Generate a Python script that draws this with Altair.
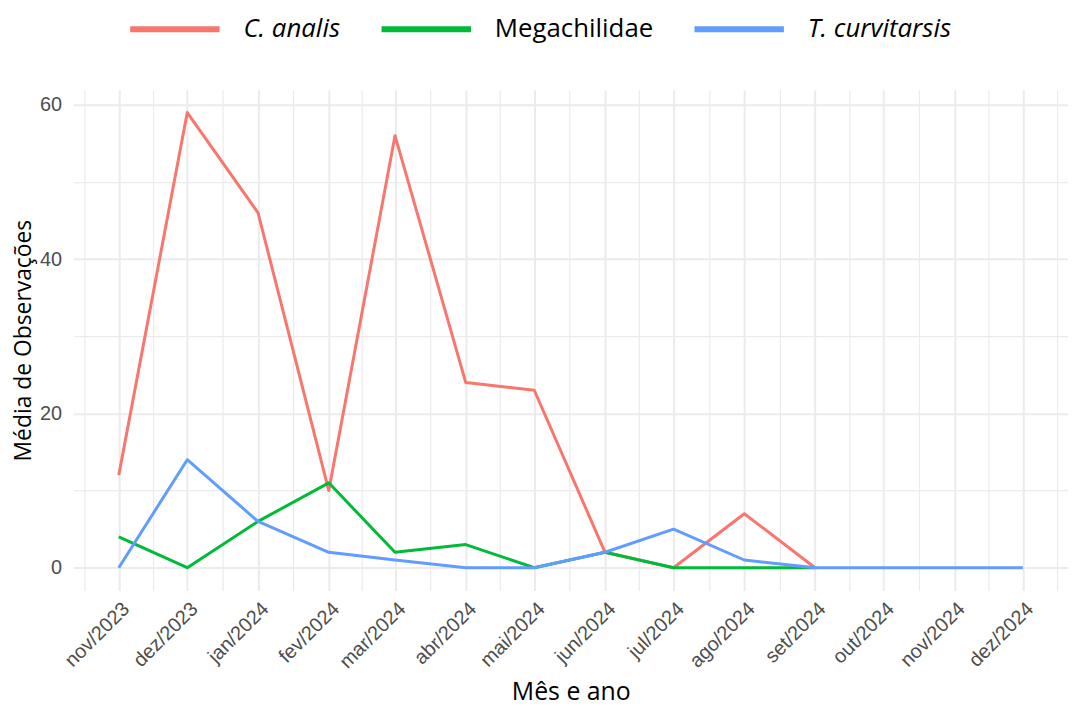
import json
import altair as alt
import pandas as pd

# ---- data ----
months = ["2023-11-01", "2023-12-01", "2024-01-01", "2024-02-01", "2024-03-01",
          "2024-04-01", "2024-05-01", "2024-06-01", "2024-07-01", "2024-08-01",
          "2024-09-01", "2024-10-01", "2024-11-01", "2024-12-01"]
month_labels = ["nov/2023", "dez/2023", "jan/2024", "fev/2024", "mar/2024",
                "abr/2024", "mai/2024", "jun/2024", "jul/2024", "ago/2024",
                "set/2024", "out/2024", "nov/2024", "dez/2024"]
series_names = ["C. analis", "Megachilidae", "T. curvitarsis"]
series_colors = ["#F8766D", "#00BA38", "#619CFF"]
c_analis = [12, 59, 46, 10, 56, 24, 23, 2, 0, 7, 0]
megachilidae = [4, 0, 6, 11, 2, 3, 0, 2, 0, 0, 0]
t_curvitarsis = [0, 14, 6, 2, 1, 0, 0, 2, 5, 1, 0, 0, 0, 0]
y_breaks = [0, 10, 20, 30, 40, 50, 60]

rows = []
for name, vals in zip(series_names, [c_analis, megachilidae, t_curvitarsis]):
    for m, v in zip(months, vals):
        rows.append({"date": m, "serie": name, "value": v})
df = pd.DataFrame(rows)

# ---- scale extents like ggplot (5% expansion) ----
def ms(s):
    return int(pd.Timestamp(s, tz="UTC").value // 10**6)

t0, t1 = ms(months[0]), ms(months[-1])
pad = 0.05 * (t1 - t0)
x_domain = [t0 - pad, t1 + pad]
major = [ms(m) for m in months]
first_gap = major[1] - major[0]
last_gap = major[-1] - major[-2]
ext = [major[0] - first_gap] + major + [major[-1] + last_gap]
minor = [(a + b) / 2 for a, b in zip(ext[:-1], ext[1:])]
x_values = sorted(major + minor)

all_vals = c_analis + megachilidae + t_curvitarsis
ymin, ymax = min(all_vals), max(all_vals)
ypad = 0.05 * (ymax - ymin)
y_domain = [ymin - ypad, ymax + ypad]

y0 = int(months[0][:4])
m0 = int(months[0][5:7]) - 1
label_expr = ("utcdate(datum.value) == 1 ? " + json.dumps(month_labels) +
              f"[(utcyear(datum.value) - {y0}) * 12 + utcmonth(datum.value) - {m0}] : ''")

grid_col = "#EBEBEB"

chart = alt.Chart(df).mark_line(strokeWidth=3, strokeJoin="round").encode(
    x=alt.X("date:T",
            scale=alt.Scale(type="utc", domain=x_domain, nice=False),
            axis=alt.Axis(values=x_values, labelExpr=label_expr, labelAngle=-45,
                          labelAlign="right", labelBaseline="top", labelPadding=8,
                          labelOverlap=False, labelFlush=False,
                          ticks=False, tickSize=0, domain=False,
                          labelFont="Liberation Sans", labelFontSize=20, labelColor="#4D4D4D",
                          title="Mês e ano", titleFont="Open Sans", titleFontSize=25,
                          titleFontWeight="normal", titleColor="black",
                          titleBaseline="alphabetic", titleY=110,
                          gridColor=grid_col,
                          gridWidth={"condition": {"test": "utcdate(datum.value) == 1", "value": 2}, "value": 1.2})),
    y=alt.Y("value:Q",
            scale=alt.Scale(domain=y_domain, nice=False, zero=False),
            axis=alt.Axis(values=y_breaks, labelExpr="datum.value % 20 == 0 ? datum.label : ''",
                          ticks=False, tickSize=0, domain=False, labelPadding=12,
                          labelFont="Liberation Sans", labelFontSize=20, labelColor="#4D4D4D",
                          title="Média de Observações", titleFont="Open Sans", titleFontSize=23,
                          titleFontWeight="normal", titleColor="black", titlePadding=4,
                          gridColor=grid_col,
                          gridWidth={"condition": {"test": "datum.value % 20 == 0", "value": 2}, "value": 1.2})),
    color=alt.Color("serie:N",
                    scale=alt.Scale(domain=series_names, range=series_colors),
                    legend=alt.Legend(orient="none", legendX=84, legendY=-79,
                                      direction="horizontal", title=None,
                                      symbolType="M-3,0H3", symbolSize=900,
                                      symbolStrokeWidth=6, symbolFillColor="transparent",
                                      labelFont="Open Sans",
                                      labelFontSize=26, labelColor="black", labelLimit=500,
                                      labelFontStyle=alt.ExprRef(expr="datum.label == 'Megachilidae' ? 'normal' : 'italic'"),
                                      labelOffset=51, columnPadding=29, gridAlign="each")),
).properties(
    width=1001, height=504,
    autosize=alt.AutoSizeParams(type="none"),
    padding={"left": 66, "top": 80, "right": 0, "bottom": 117},
    background="white",
).configure_view(stroke=None)

chart.save("out.html", embed_options={"renderer": "svg", "actions": False})
